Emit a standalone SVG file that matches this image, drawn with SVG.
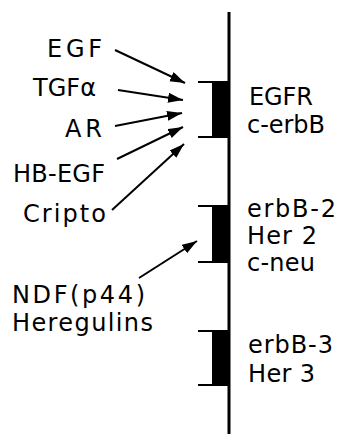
<svg xmlns="http://www.w3.org/2000/svg" width="340" height="434" viewBox="0 0 340 434">
<style>
text{font-family:"DejaVu Sans","Liberation Sans",sans-serif;font-size:24px;fill:#000}
.c{stroke:#000;stroke-width:2;fill:none}
.t{stroke:#000;stroke-width:2.2;fill:none}
</style>
<defs>
<marker id="ah" markerUnits="userSpaceOnUse" markerWidth="16" markerHeight="12" refX="15" refY="5" orient="auto">
<path d="M0,0 L15,5 L0,10 Z" fill="#000"/>
</marker>
</defs>
<rect width="340" height="434" fill="#fff"/>
<g id="axis">
<line x1="229" y1="12" x2="229" y2="434" stroke="#000" stroke-width="3"/>
</g>
<g id="egfr">
<path class="t" d="M198,82 H213 M198,137 H213"/>
<rect x="212" y="81" width="17" height="57" fill="#000"/>
<text x="249" y="105" textLength="64" lengthAdjust="spacing">EGFR</text>
<text x="247" y="133" textLength="78" lengthAdjust="spacing">c-erbB</text>
</g>
<g id="erbb2">
<path class="t" d="M198,206 H213 M198,262 H213"/>
<rect x="212" y="205" width="17" height="58" fill="#000"/>
<text x="247" y="217" textLength="89" lengthAdjust="spacing">erbB-2</text>
<text x="247" y="244" textLength="70" lengthAdjust="spacing">Her 2</text>
<text x="247" y="271" textLength="68" lengthAdjust="spacing">c-neu</text>
</g>
<g id="erbb3">
<path class="t" d="M198,331 H213 M198,385 H213"/>
<rect x="212" y="330" width="17" height="56" fill="#000"/>
<text x="248" y="353" textLength="85" lengthAdjust="spacing">erbB-3</text>
<text x="248" y="382" textLength="67" lengthAdjust="spacing">Her 3</text>
</g>
<g id="egf"><text x="47" y="57" textLength="55" lengthAdjust="spacing">EGF</text></g>
<g id="tgfa"><text x="33" y="96" textLength="63" lengthAdjust="spacing">TGFα</text></g>
<g id="ar"><text x="65" y="137" textLength="37" lengthAdjust="spacing">AR</text></g>
<g id="hbegf"><text x="13" y="182" textLength="92" lengthAdjust="spacing">HB-EGF</text></g>
<g id="cripto"><text x="23" y="222" textLength="83" lengthAdjust="spacing">Cripto</text></g>
<g id="ndf">
<text x="12" y="303" textLength="133" lengthAdjust="spacing">NDF(p44)</text>
<text x="12" y="331" textLength="141" lengthAdjust="spacing">Heregulins</text>
</g>
<g id="connectors">
<line class="c" x1="115" y1="50" x2="185" y2="83" marker-end="url(#ah)"/>
<line class="c" x1="118" y1="90" x2="183" y2="100" marker-end="url(#ah)"/>
<line class="c" x1="115" y1="126" x2="182" y2="113" marker-end="url(#ah)"/>
<line class="c" x1="117" y1="159" x2="183" y2="127" marker-end="url(#ah)"/>
<line class="c" x1="112" y1="210" x2="184" y2="144" marker-end="url(#ah)"/>
<line class="c" x1="139" y1="278" x2="197" y2="241" marker-end="url(#ah)"/>
</g>
</svg>
